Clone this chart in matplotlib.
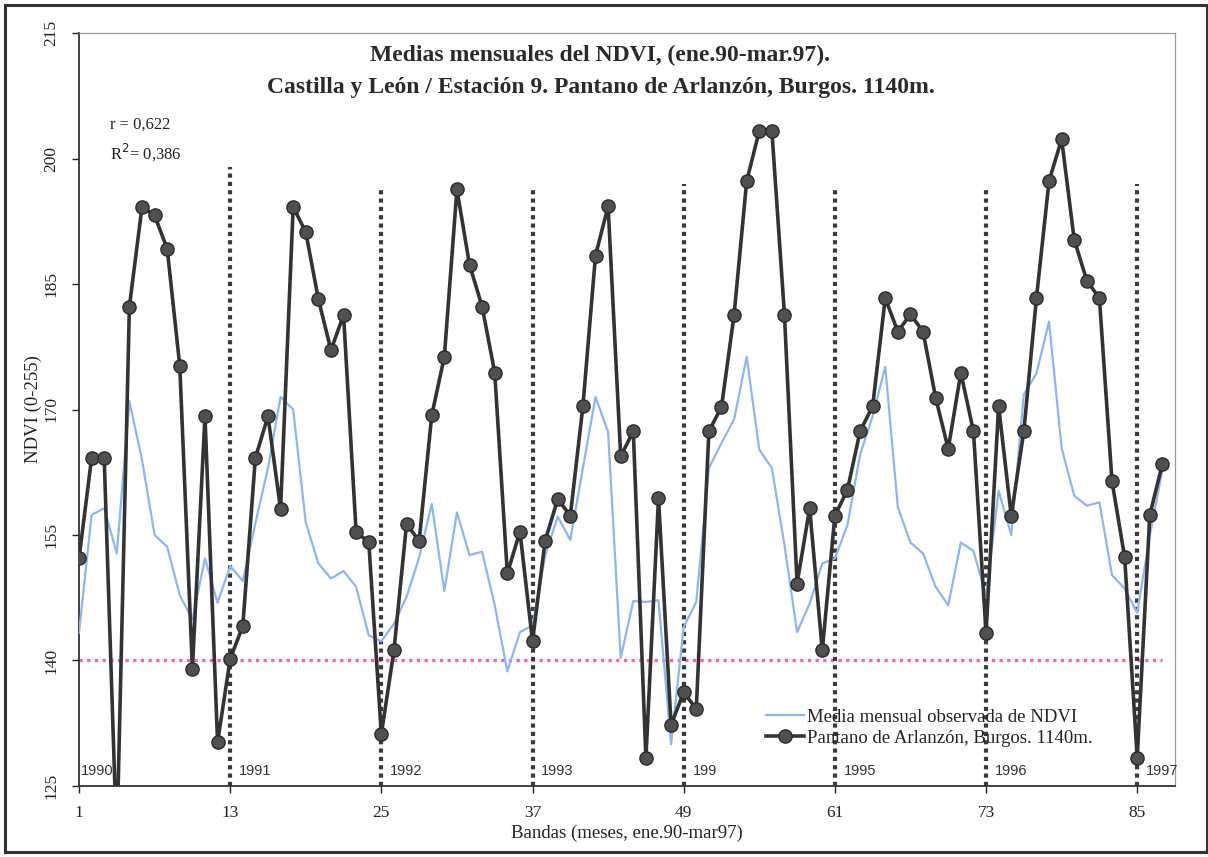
import numpy as np
import matplotlib
matplotlib.use("Agg")
from matplotlib import pyplot as plt
from matplotlib.patches import Rectangle

# meses (bandas) ene.90 - mar.97
bandas = list(range(1, 88))

media_ndvi = [
    143.3, 157.4, 158.2, 152.8, 171.0, 164.0, 155.0, 153.6, 147.8, 144.9,
    152.2, 146.9, 151.3, 149.5, 156.4, 163.0, 171.5, 170.0, 156.5, 151.6,
    149.8, 150.7, 148.8, 143.0, 142.3, 144.4, 147.6, 152.3, 158.7, 148.3,
    157.7, 152.6, 153.0, 146.6, 138.7, 143.4, 144.2, 152.5, 157.2, 154.4,
    163.0, 171.5, 167.3, 140.3, 147.1, 147.0, 147.2, 130.0, 144.0, 147.0,
    163.0, 166.0, 168.8, 176.3, 165.2, 163.0, 153.8, 143.4, 146.8, 151.6,
    152.2, 156.2, 164.6, 169.2, 175.1, 158.3, 154.1, 152.8, 148.8, 146.6,
    154.1, 153.1, 147.7, 160.3, 155.0, 171.8, 174.3, 180.5, 165.4, 159.7,
    158.5, 158.9, 150.2, 148.6, 145.7, 154.9, 162.8,
]

pantano = [
    152.2, 164.2, 164.2, 118.0, 182.3, 194.2, 193.2, 189.2, 175.2, 139.0,
    169.2, 130.2, 140.2, 144.1, 164.2, 169.2, 158.1, 194.2, 191.2, 183.2,
    177.1, 181.3, 155.3, 154.2, 131.2, 141.2, 156.3, 154.3, 169.3, 176.3,
    196.3, 187.3, 182.3, 174.4, 150.4, 155.4, 142.3, 154.3, 159.3, 157.3,
    170.4, 188.4, 194.3, 164.4, 167.4, 128.3, 159.4, 132.3, 136.2, 134.2,
    167.4, 170.3, 181.3, 197.3, 203.3, 203.3, 181.3, 149.2, 158.2, 141.2,
    157.3, 160.4, 167.4, 170.4, 183.3, 179.3, 181.4, 179.3, 171.4, 165.3,
    174.4, 167.4, 143.3, 170.4, 157.3, 167.4, 183.3, 197.3, 202.3, 190.3,
    185.4, 183.3, 161.4, 152.4, 128.4, 157.4, 163.5,
]

inicio_anio = [13, 25, 37, 49, 61, 73, 85]
tope_lineas = [199.0, 196.5, 196.5, 197.0, 196.3, 196.3, 197.0]
anios = [1, 13, 25, 37, 49, 61, 73, 85]
anio_txt = ["1990", "1991", "1992", "1993", "199", "1995", "1996", "1997"]
umbral = 140.1

xticks = [1, 13, 25, 37, 49, 61, 73, 85]
yticks = [125, 140, 155, 170, 185, 200, 215]

serif = "Liberation Serif"
sans = "Liberation Sans"

fig = plt.figure(figsize=(12.08, 8.57), dpi=100)
ax = fig.add_axes([79 / 1208, 1 - 786 / 857, (1175 - 79) / 1208, (786 - 33) / 857])

# marco exterior
fig.patches.append(Rectangle((0.004, 0.006), 0.995, 0.988, transform=fig.transFigure,
                             fill=False, edgecolor="#333333", linewidth=2.2))

ax.hlines(umbral, 1, 87, colors="#f463b4", linewidth=2.4, linestyles=(0, (1, 1.3)), zorder=2)
for x, top in zip(inicio_anio, tope_lineas):
    ax.vlines(x, 125, top, colors="#3a3a3a", linewidth=3.0, linestyles=(0, (1, 1)), zorder=2)

ax.plot(bandas, media_ndvi, color="#8db6f0", linewidth=1.6, zorder=3,
        label="Media mensual observada de NDVI")
ax.plot(bandas, pantano, color="#333333", linewidth=2.6, marker="o", markersize=9.5,
        markerfacecolor="#505050", markeredgecolor="#2a2a2a", markeredgewidth=1.0, zorder=4,
        label="Pantano de Arlanzón, Burgos. 1140m.")

for x, t in zip(anios, anio_txt):
    ax.text(x + 0.15 if x == 1 else x + 0.7, 126.0, t, fontsize=10.5, family=sans,
            color="#333333", ha="left", va="bottom")

ax.set_xlim(1, 88)
ax.set_ylim(125, 215)
ax.set_xticks(xticks)
ax.set_yticks(yticks)
ax.set_xticklabels([str(v) for v in xticks], family=serif, fontsize=12.5)
ax.set_yticklabels([str(v) for v in yticks], family=serif, fontsize=12.5,
                   rotation=90, va="center")
ax.tick_params(axis="x", direction="out", length=5, width=1.0, pad=9, colors="#222222")
ax.tick_params(axis="y", direction="out", length=5, width=1.0, pad=9, colors="#222222")

for s in ["left", "bottom"]:
    ax.spines[s].set_color("#333333")
    ax.spines[s].set_linewidth(1.3)
for s in ["top", "right"]:
    ax.spines[s].set_color("#9a9a9a")
    ax.spines[s].set_linewidth(0.9)

ax.set_xlabel("Bandas (meses, ene.90-mar97)", family=serif, fontsize=13.5,
              color="#222222", labelpad=2)
ax.set_ylabel("NDVI (0-255)", family=serif, fontsize=13.5, color="#222222", labelpad=1)

fig.text(0.497, 1 - 55 / 857, "Medias mensuales del NDVI, (ene.90-mar.97).",
         family=serif, fontsize=17, fontweight="bold", ha="center", va="center",
         color="#2a2a2a")
fig.text(0.497, 1 - 87 / 857, "Castilla y León / Estación 9. Pantano de Arlanzón, Burgos. 1140m.",
         family=serif, fontsize=17, fontweight="bold", ha="center", va="center",
         color="#2a2a2a")
fig.text(110 / 1208, 1 - 125 / 857, "r = 0,622", family=serif, fontsize=12,
         ha="left", va="center", color="#222222")
fig.text(110 / 1208, 1 - 152 / 857, "R$^2$= 0,386", family=serif, fontsize=12,
         ha="left", va="center", color="#222222")

leg = ax.legend(loc="lower left", bbox_to_anchor=(676 / 1096, 28 / 753), frameon=False,
                prop={"family": serif, "size": 13.5}, handlelength=2.0,
                handletextpad=0.15, labelspacing=0.2, borderpad=0.1)
for t in leg.get_texts():
    t.set_color("#222222")

fig.savefig("out.png", dpi=100)
